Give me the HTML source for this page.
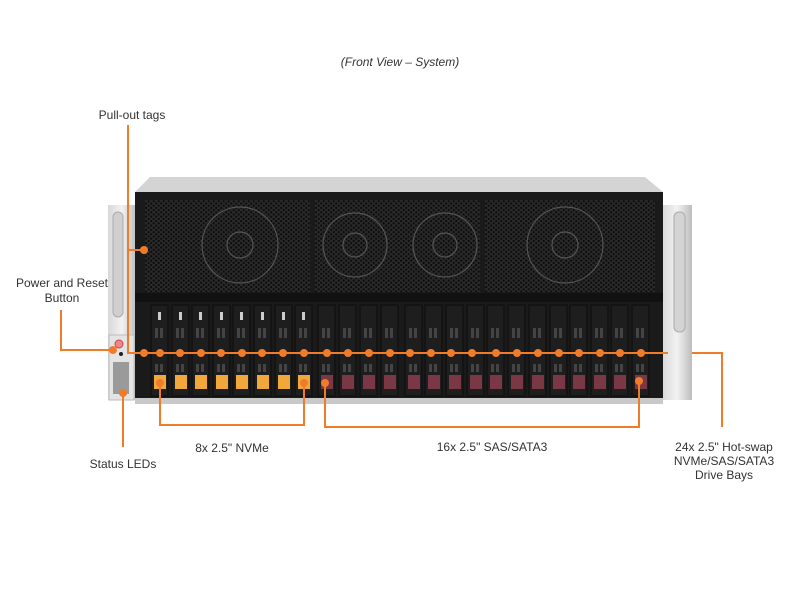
<!DOCTYPE html>
<html><head><meta charset="utf-8"><style>
body{margin:0;background:#fff;}
svg{display:block}
text{font-family:"Liberation Sans",Arial,sans-serif;fill:#333;font-size:12px}
</style></head><body>
<svg width="800" height="600" viewBox="0 0 800 600" xmlns="http://www.w3.org/2000/svg">
<defs>
<pattern id="hex" width="5" height="4.4" patternUnits="userSpaceOnUse">
<rect width="5" height="4.4" fill="#2a2a2a"/>
<circle cx="1.2" cy="1.1" r="1.1" fill="#0b0b0b"/>
<circle cx="3.7" cy="3.3" r="1.1" fill="#0b0b0b"/>
</pattern>
<linearGradient id="silver" x1="0" x2="1"><stop offset="0" stop-color="#d8d8d8"/><stop offset="0.5" stop-color="#f2f2f2"/><stop offset="1" stop-color="#bdbdbd"/></linearGradient>
<g id="bay">
<rect x="0" y="0" width="19" height="93" fill="#141414"/>
<rect x="2" y="2" width="15" height="89" fill="#1e1e1e"/>
<rect x="5" y="24" width="3" height="10" fill="#444"/><rect x="10" y="24" width="3" height="10" fill="#444"/>
<rect x="5" y="60" width="3" height="8" fill="#444"/><rect x="10" y="60" width="3" height="8" fill="#444"/>
</g>
</defs>
<text x="400" y="66" text-anchor="middle" font-style="italic">(Front View – System)</text>

<!-- top bevel -->
<polygon points="150,177 645,177 663,192 135,192" fill="#d4d4d4"/>
<!-- handles -->
<rect x="108" y="205" width="28" height="195" fill="url(#silver)"/>
<rect x="113" y="212" width="10" height="105" rx="5" fill="#cfcfcf" stroke="#aaa"/>
<rect x="109" y="335" width="25" height="65" fill="#e4e4e4" stroke="#bbb"/>
<circle cx="119" cy="344" r="4" fill="#e88" stroke="#c44"/>
<circle cx="121" cy="354" r="2" fill="#222"/>
<rect x="113" y="362" width="16" height="32" fill="#9a9a9a"/>
<rect x="662" y="205" width="30" height="195" fill="url(#silver)"/>
<rect x="674" y="212" width="11" height="120" rx="5" fill="#d4d4d4" stroke="#aaa"/>
<!-- front -->
<rect x="135" y="192" width="528" height="206" fill="#1a1a1a"/>
<rect x="135" y="398" width="528" height="6" fill="#c9c9c9"/>
<!-- fans -->
<rect x="145" y="200" width="165" height="92" fill="url(#hex)"/>
<rect x="315" y="200" width="165" height="92" fill="url(#hex)"/>
<rect x="485" y="200" width="170" height="92" fill="url(#hex)"/>
<g fill="none" stroke="#555" stroke-width="1.2">
<circle cx="240" cy="245" r="38"/><circle cx="240" cy="245" r="13"/>
<circle cx="355" cy="245" r="32"/><circle cx="355" cy="245" r="12"/>
<circle cx="445" cy="245" r="32"/><circle cx="445" cy="245" r="12"/>
<circle cx="565" cy="245" r="38"/><circle cx="565" cy="245" r="13"/>
</g>
<rect x="135" y="293" width="528" height="9" fill="#111"/>
<!-- drive bays -->
<g id="bays">
<use href="#bay" x="150" y="304"/><use href="#bay" x="171" y="304"/><use href="#bay" x="191" y="304"/><use href="#bay" x="212" y="304"/>
<use href="#bay" x="232" y="304"/><use href="#bay" x="253" y="304"/><use href="#bay" x="274" y="304"/><use href="#bay" x="294" y="304"/>
<use href="#bay" x="317" y="304"/><use href="#bay" x="338" y="304"/><use href="#bay" x="359" y="304"/><use href="#bay" x="380" y="304"/>
<use href="#bay" x="404" y="304"/><use href="#bay" x="424" y="304"/><use href="#bay" x="445" y="304"/><use href="#bay" x="466" y="304"/>
<use href="#bay" x="486" y="304"/><use href="#bay" x="507" y="304"/><use href="#bay" x="528" y="304"/><use href="#bay" x="549" y="304"/>
<use href="#bay" x="569" y="304"/><use href="#bay" x="590" y="304"/><use href="#bay" x="610" y="304"/><use href="#bay" x="631" y="304"/>
</g>
<g fill="#ccc">
<rect x="158" y="312" width="3" height="8"/><rect x="179" y="312" width="3" height="8"/><rect x="199" y="312" width="3" height="8"/><rect x="220" y="312" width="3" height="8"/>
<rect x="240" y="312" width="3" height="8"/><rect x="261" y="312" width="3" height="8"/><rect x="282" y="312" width="3" height="8"/><rect x="302" y="312" width="3" height="8"/>
</g>
<g fill="#f0a83c">
<rect x="154" y="375" width="12" height="14"/><rect x="175" y="375" width="12" height="14"/><rect x="195" y="375" width="12" height="14"/><rect x="216" y="375" width="12" height="14"/>
<rect x="236" y="375" width="12" height="14"/><rect x="257" y="375" width="12" height="14"/><rect x="278" y="375" width="12" height="14"/><rect x="298" y="375" width="12" height="14"/>
</g>
<g fill="#7a3846">
<rect x="321" y="375" width="12" height="14"/><rect x="342" y="375" width="12" height="14"/><rect x="363" y="375" width="12" height="14"/><rect x="384" y="375" width="12" height="14"/>
<rect x="408" y="375" width="12" height="14"/><rect x="428" y="375" width="12" height="14"/><rect x="449" y="375" width="12" height="14"/><rect x="470" y="375" width="12" height="14"/>
<rect x="490" y="375" width="12" height="14"/><rect x="511" y="375" width="12" height="14"/><rect x="532" y="375" width="12" height="14"/><rect x="553" y="375" width="12" height="14"/>
<rect x="573" y="375" width="12" height="14"/><rect x="594" y="375" width="12" height="14"/><rect x="614" y="375" width="12" height="14"/><rect x="635" y="375" width="12" height="14"/>
</g>

<!-- orange callouts -->
<g stroke="#f07c2a" stroke-width="2" fill="none">
<polyline points="128,125 128,353 668,353"/>
<line x1="128" y1="250" x2="144" y2="250"/>
<polyline points="61,310 61,350 113,350"/>
<line x1="123" y1="393" x2="123" y2="447"/>
<polyline points="160,383 160,425 304,425 304,383"/>
<polyline points="325,383 325,427 639,427 639,381"/>
<polyline points="692,353 722,353 722,427"/>
</g>
<g fill="#f07c2a">
<circle cx="144" cy="250" r="4"/><circle cx="113" cy="350" r="4"/><circle cx="123" cy="393" r="4"/>
<circle cx="160" cy="383" r="4"/><circle cx="304" cy="383" r="4"/><circle cx="325" cy="383" r="4"/><circle cx="639" cy="381" r="4"/>
<circle cx="144" cy="353" r="4"/>
<circle cx="160" cy="353" r="4"/><circle cx="180" cy="353" r="4"/><circle cx="201" cy="353" r="4"/><circle cx="221" cy="353" r="4"/>
<circle cx="242" cy="353" r="4"/><circle cx="262" cy="353" r="4"/><circle cx="283" cy="353" r="4"/><circle cx="304" cy="353" r="4"/>
<circle cx="327" cy="353" r="4"/><circle cx="348" cy="353" r="4"/><circle cx="369" cy="353" r="4"/><circle cx="390" cy="353" r="4"/>
<circle cx="410" cy="353" r="4"/><circle cx="431" cy="353" r="4"/><circle cx="451" cy="353" r="4"/><circle cx="472" cy="353" r="4"/>
<circle cx="496" cy="353" r="4"/><circle cx="517" cy="353" r="4"/><circle cx="538" cy="353" r="4"/><circle cx="559" cy="353" r="4"/>
<circle cx="579" cy="353" r="4"/><circle cx="600" cy="353" r="4"/><circle cx="620" cy="353" r="4"/><circle cx="641" cy="353" r="4"/>
</g>

<text x="132" y="119" text-anchor="middle">Pull-out tags</text>
<text x="62" y="287" text-anchor="middle">Power and Reset</text>
<text x="62" y="302" text-anchor="middle">Button</text>
<text x="123" y="468" text-anchor="middle">Status LEDs</text>
<text x="232" y="452" text-anchor="middle">8x 2.5" NVMe</text>
<text x="492" y="451" text-anchor="middle">16x 2.5" SAS/SATA3</text>
<text x="724" y="451" text-anchor="middle" font-size="11">24x 2.5" Hot-swap</text>
<text x="724" y="465" text-anchor="middle" font-size="11">NVMe/SAS/SATA3</text>
<text x="724" y="479" text-anchor="middle" font-size="11">Drive Bays</text>
</svg>
</body></html>
